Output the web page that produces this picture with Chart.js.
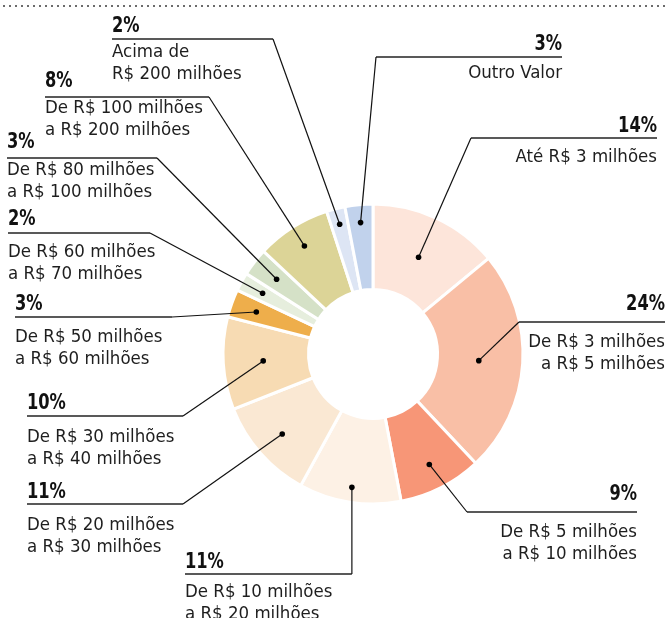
<!DOCTYPE html>
<html><head><meta charset="utf-8">
<script src="https://cdn.jsdelivr.net/npm/chart.js@4/dist/chart.umd.min.js"></script>
<style>html,body{margin:0;padding:0;background:#fff;overflow:hidden}canvas{display:block}</style>
</head><body>
<canvas id="c" width="668" height="618"></canvas>
<script>
// ---- data ----
const categories = [
  ['Até R$ 3 milhões'],
  ['De R$ 3 milhões', 'a R$ 5 milhões'],
  ['De R$ 5 milhões', 'a R$ 10 milhões'],
  ['De R$ 10 milhões', 'a R$ 20 milhões'],
  ['De R$ 20 milhões', 'a R$ 30 milhões'],
  ['De R$ 30 milhões', 'a R$ 40 milhões'],
  ['De R$ 50 milhões', 'a R$ 60 milhões'],
  ['De R$ 60 milhões', 'a R$ 70 milhões'],
  ['De R$ 80 milhões', 'a R$ 100 milhões'],
  ['De R$ 100 milhões', 'a R$ 200 milhões'],
  ['Acima de', 'R$ 200 milhões'],
  ['Outro Valor']
];
const values = [14, 24, 9, 11, 11, 10, 3, 2, 3, 8, 2, 3];
const percentLabels = ['14%', '24%', '9%', '11%', '11%', '10%', '3%', '2%', '3%', '8%', '2%', '3%'];

// ---- styles ----
const colors = ['#fde5da', '#f9bfa6', '#f79677', '#fdf1e5', '#fae8d3', '#f7dbb3',
                '#eeae4b', '#e6eedd', '#d5e1c7', '#dcd497', '#dde5f4', '#c1d2ec'];

// annotation layout: underline position, alignment, leader dot radius, gaps
const labelLayout = [
  {align:'right', x0:471, x1:657, y:138, dotR:107, pg:6,  tg:24},
  {align:'right', x0:519, x1:665, y:322, dotR:106, pg:12, tg:25},
  {align:'right', x0:467, x1:637, y:512, dotR:124, pg:12, tg:25},
  {align:'left',  x0:185, x1:'dot', y:574, dotR:135, pg:6, tg:23},
  {align:'left',  x0:27,  x1:183, y:504, dotR:121, pg:6,  tg:26},
  {align:'left',  x0:27,  x1:183, y:416, dotR:110, pg:7,  tg:26},
  {align:'left',  x0:15,  x1:172, y:317, dotR:124, pg:7,  tg:25},
  {align:'left',  x0:8,   x1:150, y:233, dotR:126, pg:8,  tg:24},
  {align:'left',  x0:7,   x1:157, y:158, dotR:122, pg:10, tg:17},
  {align:'left',  x0:45,  x1:209, y:97,  dotR:128, pg:10, tg:16},
  {align:'left',  x0:112, x1:273, y:39,  dotR:134, pg:7,  tg:18},
  {align:'right', x0:376, x1:562, y:57,  dotR:132, pg:7,  tg:21}
];
const FONT = '"DejaVu Sans Condensed", "Liberation Sans Narrow", "Roboto", sans-serif';

const calloutPlugin = {
  id: 'callouts',
  beforeDraw(chart) {
    const ctx = chart.ctx;
    ctx.save();
    ctx.fillStyle = '#6b6b6b';
    for (let x = 3; x < chart.width; x += 6) ctx.fillRect(x, 5, 2, 2);
    ctx.restore();
  },
  afterDraw(chart) {
    const ctx = chart.ctx;
    const meta = chart.getDatasetMeta(0);
    ctx.save();
    meta.data.forEach((arc, i) => {
      const L = labelLayout[i];
      const mid = (arc.startAngle + arc.endAngle) / 2;
      const dx = arc.x + Math.cos(mid) * L.dotR;
      const dy = arc.y + Math.sin(mid) * L.dotR;
      const x1 = L.x1 === 'dot' ? dx : L.x1;
      const x0 = L.x0;
      ctx.strokeStyle = '#222';
      ctx.lineWidth = 1.3;
      ctx.beginPath();
      ctx.moveTo(x0, L.y); ctx.lineTo(x1, L.y);
      ctx.stroke();
      const lx = L.align === 'right' ? x0 : x1;
      ctx.strokeStyle = '#111';
      ctx.lineWidth = 1.2;
      ctx.beginPath();
      ctx.moveTo(lx, L.y); ctx.lineTo(dx, dy);
      ctx.stroke();
      ctx.fillStyle = '#000';
      ctx.beginPath();
      ctx.arc(dx, dy, 2.8, 0, Math.PI * 2);
      ctx.fill();
      const tx = L.align === 'right' ? x1 : x0;
      ctx.textAlign = L.align;
      ctx.textBaseline = 'alphabetic';
      ctx.fillStyle = '#111';
      ctx.font = 'bold 21px ' + FONT;
      ctx.save();
      ctx.translate(tx, L.y - L.pg);
      ctx.scale(0.86, 1);
      ctx.fillText(percentLabels[i], 0, 0);
      ctx.restore();
      ctx.fillStyle = '#1e1e1e';
      ctx.font = '18.5px ' + FONT;
      categories[i].forEach((line, k) => {
        ctx.fillText(line, tx, L.y + L.tg + k * 22);
      });
    });
    ctx.restore();
  }
};

new Chart(document.getElementById('c'), {
  type: 'doughnut',
  data: {
    labels: categories.map(c => c.join(' ')),
    datasets: [{
      data: values,
      backgroundColor: colors,
      borderColor: '#ffffff',
      borderWidth: 3,
      radius: 150,
      cutout: 63
    }]
  },
  options: {
    responsive: false,
    devicePixelRatio: 1,
    animation: false,
    layout: {padding: {left: 225, right: 147, top: 206, bottom: 116}},
    plugins: {legend: {display: false}, tooltip: {enabled: false}}
  },
  plugins: [calloutPlugin]
});
</script>
</body></html>
